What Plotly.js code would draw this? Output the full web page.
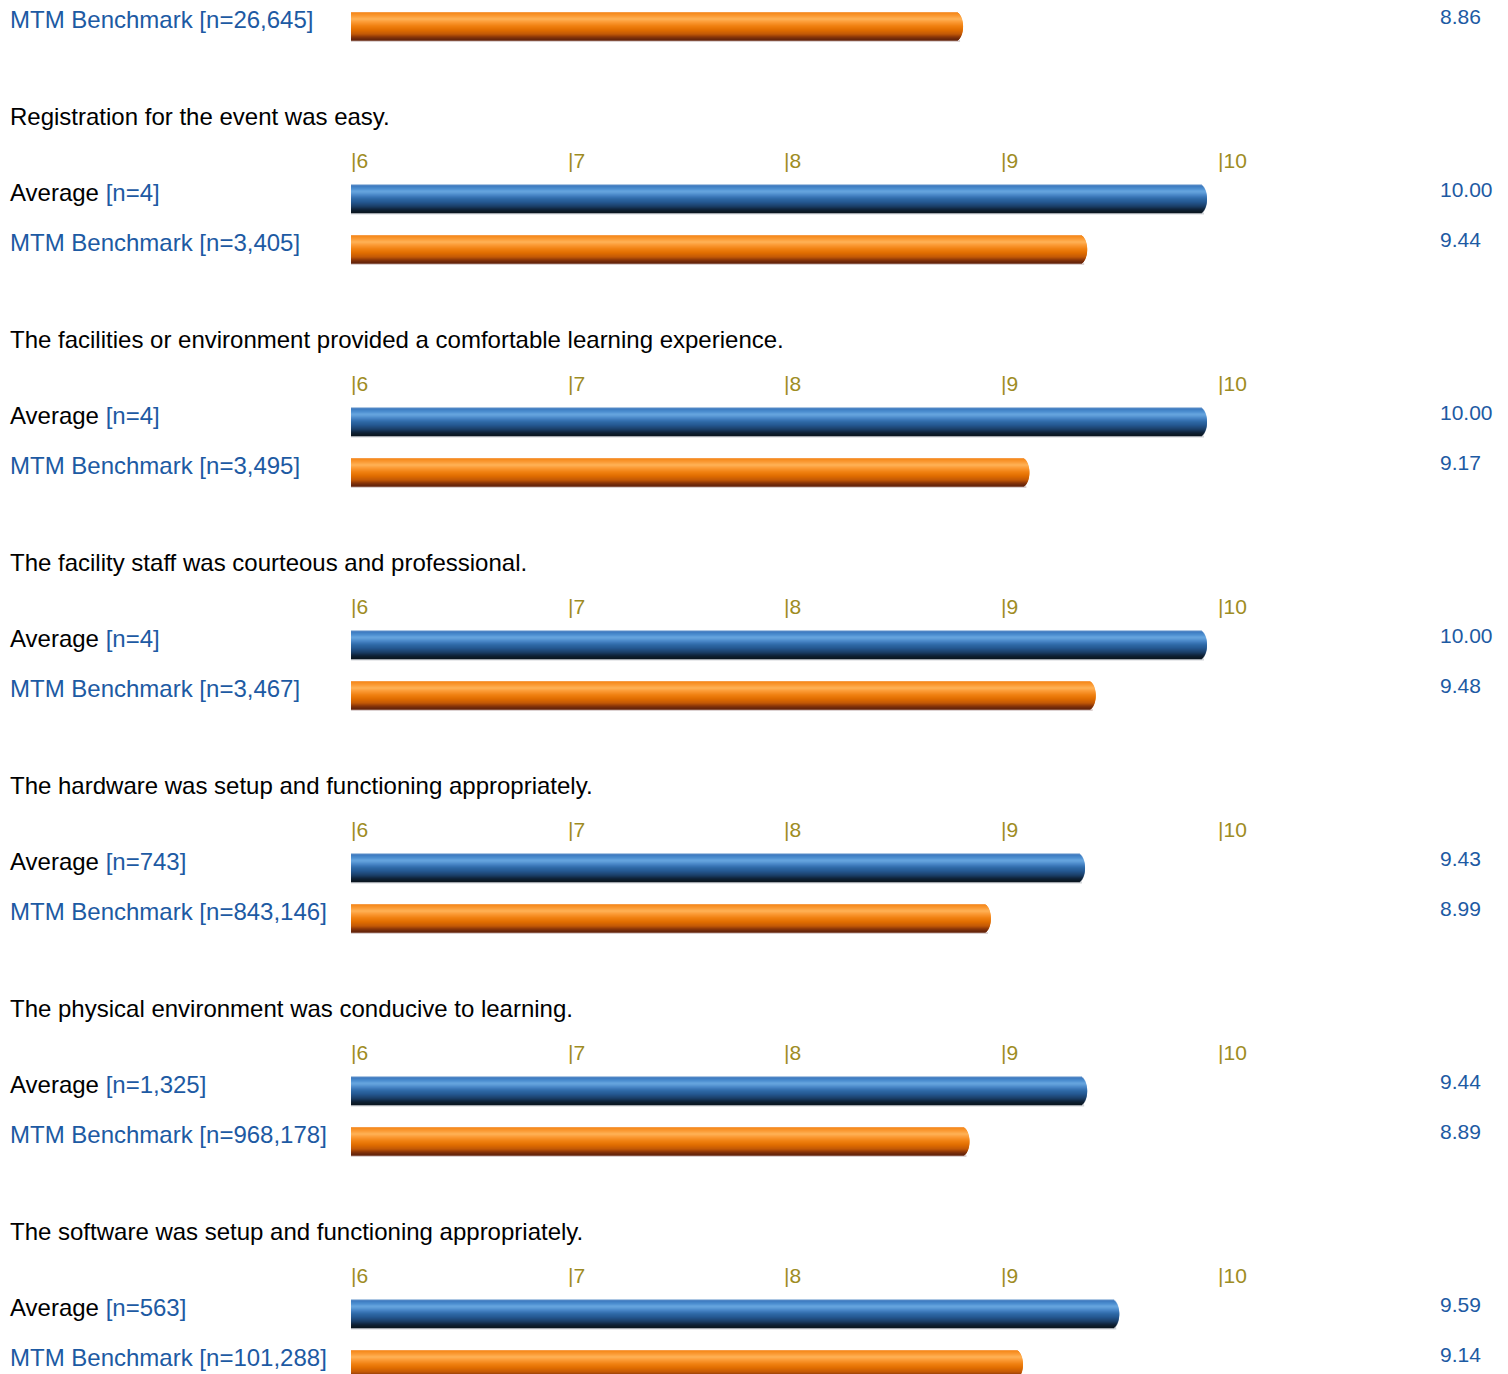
<!DOCTYPE html>
<html>
<head>
<meta charset="utf-8">
<script src="https://cdn.plot.ly/plotly-3.0.1.min.js"></script>
<style>
  html, body { margin: 0; padding: 0; background: #ffffff; }
  #chart { width: 1508px; height: 1374px; }
</style>
</head>
<body>
<div id="chart"></div>
<script>
// ---------------- data ----------------
const questions = [
  null,
  "Registration for the event was easy.",
  "The facilities or environment provided a comfortable learning experience.",
  "The facility staff was courteous and professional.",
  "The hardware was setup and functioning appropriately.",
  "The physical environment was conducive to learning.",
  "The software was setup and functioning appropriately."
];
const averageN      = [null, "4", "4", "4", "743", "1,325", "563"];
const averageValues = [null, 10.00, 10.00, 10.00, 9.43, 9.44, 9.59];
const benchmarkN      = ["26,645", "3,405", "3,495", "3,467", "843,146", "968,178", "101,288"];
const benchmarkValues = [8.86, 9.44, 9.17, 9.48, 8.99, 8.89, 9.14];
const tickValues = [6, 7, 8, 9, 10];

// ---------------- layout constants ----------------
const W = 1508, H = 1374;
const FONT = '"Liberation Sans", Arial, Helvetica, sans-serif';
const BLUE_TEXT = '#1d5aa3';
const TICK_COLOR = '#9e8c23';
const PITCH = 223;          // vertical distance between question groups
const FIRST_TITLE = -107;   // title position of the first (partially hidden) group
const BAR_BASE = 5.9;       // start bars just left of the clip edge so the left end is flat
const BAR_PX = 214;         // px per unit on the bar scale
const TICK_PX = 216.7;      // px per unit on the tick-label scale
const TICK6_PX = 349;       // left edge of the "|6" label box
const HALF = 14;            // half bar thickness in px
const CAP_RX = 8;           // horizontal radius of rounded bar end in px

function groupTop(g) { return FIRST_TITLE + g * PITCH; }

// colour stops (offset from bar centre in px, colour) for the tube shading
const blueStops = [
  [-14, '#7fa6d2'], [-13, '#3b78bd'], [-10, '#4a8ccf'], [-7, '#69a7e0'],
  [-4, '#4f8ccc'], [0, '#2f6aa8'], [4, '#24568e'], [8, '#1a3d66'],
  [11, '#0f2338'], [14, '#0a141e']
];
const orangeStops = [
  [-14, '#f6ad70'], [-13, '#f5891a'], [-10, '#fb9b35'], [-7, '#ffb257'],
  [-4, '#fb9a34'], [0, '#f08010'], [4, '#e06c00'], [8, '#c25806'],
  [11, '#8a3508'], [14, '#5c200c']
];

function hexToRgb(h) {
  return [parseInt(h.slice(1, 3), 16), parseInt(h.slice(3, 5), 16), parseInt(h.slice(5, 7), 16)];
}
function colorAt(stops, d) {
  if (d <= stops[0][0]) return stops[0][1];
  for (let i = 1; i < stops.length; i++) {
    if (d <= stops[i][0]) {
      const a = stops[i - 1], b = stops[i];
      const t = (d - a[0]) / (b[0] - a[0]);
      const ca = hexToRgb(a[1]), cb = hexToRgb(b[1]);
      const c = ca.map(function (v, k) { return Math.round(v + (cb[k] - v) * t); });
      return 'rgb(' + c.join(',') + ')';
    }
  }
  return stops[stops.length - 1][1];
}
function capInset(d) {
  // rounded (elliptical) bar end: horizontal inset in px for row offset d
  const u = Math.min(1, Math.abs(d) / (HALF + 0.5));
  return CAP_RX * (1 - Math.sqrt(Math.max(0, 1 - u * u)));
}

const traces = [];
function addSeries(values, rowOffset, stops, shadowColor) {
  // thin shadow line under the bar
  const sx = [], sy = [];
  values.forEach(function (v, g) {
    if (v === null) return;
    sx.push(v - BAR_BASE - 3 / BAR_PX);
    sy.push(groupTop(g) + rowOffset + HALF + 1);
  });
  traces.push({
    type: 'bar', orientation: 'h', x: sx, y: sy, base: BAR_BASE, width: 2,
    marker: { color: shadowColor, line: { width: 0 } },
    hoverinfo: 'skip', showlegend: false, xaxis: 'x', yaxis: 'y'
  });
  for (let d = -HALF; d <= HALF - 1; d += 1) {
    const xs = [], ys = [];
    const mid = d + 0.5;
    const inset = capInset(mid) / BAR_PX;
    values.forEach(function (v, g) {
      if (v === null) return;
      xs.push(v - BAR_BASE - inset);
      ys.push(groupTop(g) + rowOffset + d + 1);   // centre of a 2px slice starting at d
    });
    traces.push({
      type: 'bar', orientation: 'h',
      x: xs, y: ys, base: BAR_BASE,
      width: (d === HALF - 1) ? 1.6 : 2,
      marker: { color: colorAt(stops, mid), line: { width: 0 } },
      hoverinfo: 'skip', showlegend: false, xaxis: 'x', yaxis: 'y'
    });
  }
}
addSeries(averageValues, 82.5, blueStops, '#d3d6da');
addSeries(benchmarkValues, 133, orangeStops, '#ddd2d2');

// ---------------- annotations ----------------
const annotations = [];
questions.forEach(function (q, g) {
  const T = groupTop(g);
  if (q !== null) {
    annotations.push({
      xref: 'paper', yref: 'y', x: 8 / W, y: T, xanchor: 'left', yanchor: 'middle',
      text: q, showarrow: false, font: { family: FONT, size: 24, color: '#000000' }
    });
    tickValues.forEach(function (t) {
      annotations.push({
        xref: 'x2', yref: 'y', x: t, y: T + 44, xanchor: 'left', yanchor: 'middle',
        text: '|' + t, showarrow: false, font: { family: FONT, size: 21, color: TICK_COLOR }
      });
    });
  }
  if (averageValues[g] !== null) {
    annotations.push({
      xref: 'paper', yref: 'y', x: 8 / W, y: T + 76, xanchor: 'left', yanchor: 'middle',
      text: 'Average <span style="color:' + BLUE_TEXT + '">[n=' + averageN[g] + ']</span>',
      showarrow: false, font: { family: FONT, size: 24, color: '#000000' }
    });
    annotations.push({
      xref: 'paper', yref: 'y', x: 1438 / W, y: T + 73, xanchor: 'left', yanchor: 'middle',
      text: averageValues[g].toFixed(2), showarrow: false,
      font: { family: FONT, size: 21, color: BLUE_TEXT }
    });
  }
  annotations.push({
    xref: 'paper', yref: 'y', x: 8 / W, y: T + 126, xanchor: 'left', yanchor: 'middle',
    text: 'MTM Benchmark [n=' + benchmarkN[g] + ']',
    showarrow: false, font: { family: FONT, size: 24, color: BLUE_TEXT }
  });
  annotations.push({
    xref: 'paper', yref: 'y', x: 1438 / W, y: T + 123, xanchor: 'left', yanchor: 'middle',
    text: benchmarkValues[g].toFixed(2), showarrow: false,
    font: { family: FONT, size: 21, color: BLUE_TEXT }
  });
});

const domainLeft = 351, domainW = W - domainLeft;
const tickStart = 6 - TICK6_PX / TICK_PX;   // x2 spans the full width
const layout = {
  width: W, height: H,
  margin: { l: 0, r: 0, t: 0, b: 0, pad: 0 },
  paper_bgcolor: '#ffffff', plot_bgcolor: 'rgba(0,0,0,0)',
  barmode: 'overlay',
  showlegend: false,
  xaxis: {
    domain: [domainLeft / W, 1], range: [6, 6 + domainW / BAR_PX],
    visible: false, fixedrange: true
  },
  xaxis2: {
    domain: [0, 1], anchor: 'y',
    range: [tickStart, tickStart + W / TICK_PX],
    visible: false, fixedrange: true, showgrid: false, zeroline: false
  },
  yaxis: {
    domain: [0, 1], range: [H, 0], autorange: false,
    visible: false, fixedrange: true
  },
  annotations: annotations,
  font: { family: FONT }
};

Plotly.newPlot('chart', traces, layout, { displayModeBar: false, staticPlot: true });
</script>
</body>
</html>
